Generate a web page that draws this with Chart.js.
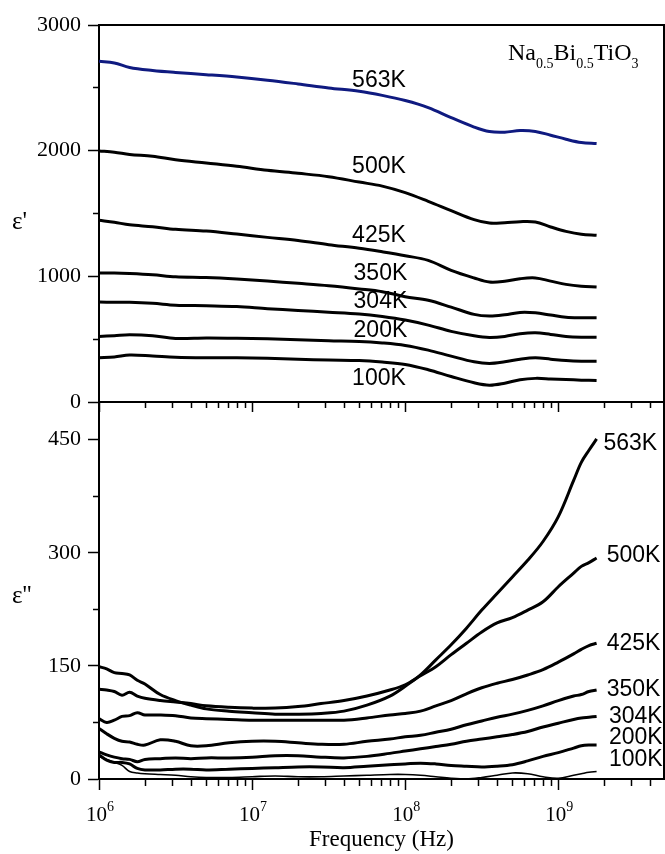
<!DOCTYPE html>
<html>
<head>
<meta charset="utf-8">
<script src="https://cdn.jsdelivr.net/npm/chart.js@4.4.1/dist/chart.umd.min.js"></script>
<style>
  body { margin: 0; background: #fff; }
  #wrap { position: relative; width: 665px; height: 854px; }
  canvas { position: absolute; left: 0; top: 0; }
</style>
</head>
<body>
<div id="wrap">
  <canvas id="canvas" width="665" height="854"></canvas>
  <canvas id="canvas2" width="665" height="854"></canvas>
</div>
<script>
// frequencies (Hz) for the eps' panel
var freqTop = [1e6, 1.259e6, 1.585e6, 2.239e6, 3.162e6, 5.012e6, 7.943e6, 1.259e7, 1.995e7, 3.162e7, 5.012e7, 7.079e7,
  1e8, 1.413e8, 1.995e8, 2.818e8, 3.548e8, 4.467e8, 5.623e8, 7.079e8, 8.913e8, 1.122e9, 1.413e9, 1.778e9];

var real563 = [2712, 2698, 2662, 2638, 2622, 2605, 2586, 2561, 2531, 2499, 2472, 2440, 2399, 2343, 2263, 2188, 2152, 2147, 2160, 2153, 2123, 2091, 2065, 2057];
var real500 = [1998, 1988, 1970, 1955, 1928, 1902, 1876, 1844, 1820, 1793, 1750, 1718, 1666, 1597, 1523, 1451, 1424, 1427, 1435, 1432, 1393, 1358, 1334, 1326];
var real425 = [1446, 1430, 1410, 1395, 1374, 1360, 1336, 1310, 1285, 1252, 1223, 1195, 1164, 1127, 1048, 987, 954, 960, 981, 987, 962, 936, 921, 915];
var real350 = [1026, 1026, 1022, 1012, 996, 990, 978, 962, 944, 925, 900, 878, 838, 809, 755, 697, 684, 694, 713, 710, 692, 675, 671, 671];
var real304 = [795, 793, 793, 785, 770, 766, 760, 743, 729, 715, 700, 680, 652, 612, 562, 527, 514, 522, 543, 551, 538, 522, 516, 516];
var real200 = [522, 528, 535, 528, 506, 510, 508, 503, 496, 488, 482, 470, 450, 413, 365, 320, 307, 320, 341, 352, 341, 330, 325, 325];
var real100 = [352, 358, 374, 366, 356, 352, 352, 348, 340, 334, 330, 318, 299, 257, 203, 153, 134, 150, 177, 188, 184, 179, 174, 171];

// frequencies (Hz) for the eps'' panel
var freqBot = [1e6, 1.122e6, 1.259e6, 1.413e6, 1.585e6, 1.778e6, 1.995e6, 2.512e6, 3.162e6, 3.981e6, 5.012e6, 7.079e6,
  1e7, 1.413e7, 1.995e7, 2.818e7, 3.981e7, 5.623e7, 7.943e7, 1e8, 1.259e8, 1.585e8, 1.995e8, 2.512e8, 3.162e8, 3.981e8,
  5.012e8, 6.31e8, 7.943e8, 1e9, 1.259e9, 1.413e9, 1.585e9, 1.778e9];

var loss563 = [149, 146, 141, 140, 138, 131, 126, 112, 104, 98, 93, 90, 88, 86, 86, 87, 90, 98, 110, 123, 138, 158, 178, 200, 224, 246, 268, 290, 315, 348, 396, 420, 436, 451];
var loss500 = [119, 118, 116, 111, 115, 110, 107, 104, 102, 100, 97, 95, 94, 94, 96, 100, 104, 110, 118, 125, 137, 149, 165, 180, 195, 207, 214, 224, 235, 255, 273, 282, 287, 293];
var loss425 = [80, 75, 78, 83, 84, 88, 85, 85, 84, 81, 80, 79, 78, 78, 78, 78, 78, 81, 85, 87, 90, 97, 104, 113, 121, 127, 132, 138, 145, 155, 166, 172, 177, 180];
var loss350 = [67, 60, 54, 50, 49, 46, 45, 52, 50, 44, 44, 48, 50, 50, 48, 46, 46, 50, 53, 56, 58, 62, 66, 72, 77, 82, 86, 91, 97, 104, 110, 112, 116, 118];
var loss304 = [36, 32, 29, 27, 26, 23, 26, 27, 28, 27, 28, 28, 29, 31, 31, 29, 28, 30, 34, 37, 40, 43, 46, 50, 53, 56, 59, 63, 69, 74, 79, 81, 82, 83];
var loss200 = [32, 25, 22, 22, 20, 14, 12, 12, 13, 13, 12, 13, 14, 15, 16, 16, 15, 17, 19, 20, 21, 20, 18, 17, 16, 17, 19, 24, 30, 35, 41, 44, 45, 45];
var loss100 = [30, 26, 22, 18, 10, 8, 7, 6, 5, 3, 2, 2, 3, 4, 3, 3, 4, 5, 6, 6, 5, 3, 1, 0, 2, 5, 8, 7, 3, 1, 5, 7, 9, 10];

var temps = ['563K', '500K', '425K', '350K', '304K', '200K', '100K'];
var realTicks = [0, 1000, 2000, 3000];
var lossTicks = [0, 150, 300, 450];

// where the temperature labels sit (data units)
var labelPosTop = [[4.5e7, 2561], [4.5e7, 1870], [4.5e7, 1326], [4.6e7, 1023], [4.6e7, 795], [4.6e7, 570], [4.5e7, 187]];
var labelPosBot = [[1.97e9, 445], [2.07e9, 296], [2.07e9, 180], [2.07e9, 118], [2.14e9, 83], [2.14e9, 55], [2.14e9, 25]];

var serif = '"Liberation Serif", "Times New Roman", serif';
var sans = '"Liberation Sans", Arial, sans-serif';
var xMin = 1e6, xMax = 4.9e9;

function isDecade(v) {
  var l = Math.log10(v);
  return Math.abs(l - Math.round(l)) < 1e-6;
}
function logTicks(scale) {
  var t = [];
  for (let e = 6; e <= 9; e++) {
    for (let m = 1; m <= 9; m++) {
      var v = m * Math.pow(10, e);
      if (v <= xMax) t.push({ value: v });
    }
  }
  scale.ticks = t;
}
function pts(xs, ys) {
  return xs.map(function (x, i) { return { x: x, y: ys[i] }; });
}
function line(label, data, color, width) {
  return { label: label, data: data, borderColor: color, borderWidth: width, pointRadius: 0, tension: 0.35, fill: false };
}

function textPlugin(pos, extra) {
  return {
    id: 'texts',
    afterDraw: function (chart) {
      var ctx = chart.ctx, x = chart.scales.x, y = chart.scales.y;
      ctx.save();
      ctx.fillStyle = '#000';
      ctx.font = '23px ' + sans;
      ctx.textBaseline = 'middle';
      temps.forEach(function (t, i) {
        ctx.fillText(t, x.getPixelForValue(pos[i][0]), y.getPixelForValue(pos[i][1]));
      });
      if (extra) extra(ctx, chart);
      ctx.restore();
    }
  };
}

// decade labels 10^n drawn with a real superscript
function decadeLabels(c, chart) {
  var x = chart.scales.x, base = chart.chartArea.bottom + 42;
  x.ticks.forEach(function (t) {
    if (!isDecade(t.value)) return;
    var px = x.getPixelForValue(t.value);
    var ex = String(Math.round(Math.log10(t.value)));
    c.font = '21px ' + serif;
    var w1 = c.measureText('10').width;
    c.font = '14px ' + serif;
    var w2 = c.measureText(ex).width;
    var left = px - (w1 + w2) / 2 + 1;
    c.textBaseline = 'alphabetic';
    c.font = '21px ' + serif;
    c.fillText('10', left, base);
    c.font = '14px ' + serif;
    c.fillText(ex, left + w1, base - 10);
  });
}

function xBottom(showTitle, height, major, minor) {
  return {
    type: 'logarithmic', position: 'bottom', min: xMin, max: xMax,
    afterBuildTicks: logTicks,
    afterFit: function (s) { s.height = height; },
    border: { display: true, color: '#000', width: 2 },
    grid: {
      drawOnChartArea: false, drawTicks: true, tickLength: major, tickColor: '#000', tickWidth: 1.5,
      tickBorderDash: function (c) { return (c.tick && !isDecade(c.tick.value)) ? [minor, 100] : []; }
    },
    ticks: { display: false },
    title: {
      display: showTitle, text: 'Frequency (Hz)', color: '#000',
      font: { family: serif, size: 23 }, padding: { top: 0, bottom: 0 }
    }
  };
}
function xTopAxis() {
  return {
    type: 'logarithmic', position: 'top', min: xMin, max: xMax,
    afterFit: function (s) { s.height = 0; },
    border: { display: true, color: '#000', width: 2 },
    grid: { display: false }, ticks: { display: false }
  };
}
function yLeft(max, step, labelled) {
  return {
    type: 'linear', position: 'left', min: 0, max: max,
    afterBuildTicks: function (s) {
      var t = [];
      for (let v = 0; v <= max + 1e-9; v += step) t.push({ value: v });
      s.ticks = t;
    },
    afterFit: function (s) { s.width = 99; },
    border: { display: true, color: '#000', width: 2 },
    grid: {
      drawOnChartArea: false, tickLength: 11, tickColor: '#000', tickWidth: 1.5,
      tickBorderDash: function (c) { return (c.tick && labelled.indexOf(c.tick.value) < 0) ? [0, 5, 6, 100] : []; }
    },
    ticks: {
      padding: 7, color: '#000', font: { family: serif, size: 22 },
      callback: function (v) { return labelled.indexOf(v) >= 0 ? String(v) : ''; }
    }
  };
}
function yRightAxis() {
  return {
    type: 'linear', position: 'right', min: 0, max: 1,
    afterFit: function (s) { s.width = 0; },
    border: { display: true, color: '#000', width: 2 },
    grid: { display: false }, ticks: { display: false }
  };
}

var colors = ['#0f1a80', '#000', '#000', '#000', '#000', '#000', '#000'];
var widthsTop = [3, 3, 3, 3, 3, 3, 3];
var widthsBot = [3, 3, 3, 3, 3, 3, 1.6];
var realSeries = [real563, real500, real425, real350, real304, real200, real100];
var lossSeries = [loss563, loss500, loss425, loss350, loss304, loss200, loss100];

const ctx = document.getElementById('canvas');
new Chart(ctx, {
  type: 'line',
  data: { datasets: realSeries.map(function (s, i) { return line(temps[i], pts(freqTop, s), colors[i], widthsTop[i]); }) },
  options: {
    responsive: false, animation: false, devicePixelRatio: 1,
    layout: { padding: { left: 0, right: 1, top: 25, bottom: 452 } },
    plugins: { legend: { display: false }, tooltip: { enabled: false } },
    scales: { x: xBottom(false, 0, 10, 5), xt: xTopAxis(), y: yLeft(3000, 500, realTicks), yr: yRightAxis() }
  },
  plugins: [textPlugin(labelPosTop, function (c, chart) {
    var area = chart.chartArea;
    c.font = '25px ' + serif;
    c.textBaseline = 'alphabetic';
    c.fillText("\u03b5'", 12, (area.top + area.bottom) / 2 + 15);
    // formula, with subscripts
    var x = area.right - 156, y = area.top + 35;
    var parts = [['Na', 0], ['0.5', 1], ['Bi', 0], ['0.5', 1], ['TiO', 0], ['3', 1]];
    parts.forEach(function (p) {
      c.font = p[1] ? '14px ' + serif : '24px ' + serif;
      c.fillText(p[0], x, p[1] ? y + 8 : y);
      x += c.measureText(p[0]).width;
    });
  })]
});

const ctx2 = document.getElementById('canvas2');
new Chart(ctx2, {
  type: 'line',
  data: { datasets: lossSeries.map(function (s, i) { return line(temps[i], pts(freqBot, s), '#000', widthsBot[i]); }) },
  options: {
    responsive: false, animation: false, devicePixelRatio: 1,
    layout: { padding: { left: 0, right: 1, top: 402, bottom: 0 } },
    plugins: { legend: { display: false }, tooltip: { enabled: false } },
    scales: { x: xBottom(true, 75, 11, 6), xt: xTopAxis(), y: yLeft(500, 75, lossTicks), yr: yRightAxis() }
  },
  plugins: [textPlugin(labelPosBot, function (c, chart) {
    var area = chart.chartArea;
    c.font = '25px ' + serif;
    c.textBaseline = 'alphabetic';
    c.fillText("\u03b5''", 12, (area.top + area.bottom) / 2 + 12);
    decadeLabels(c, chart);
  })]
});
</script>
</body>
</html>
